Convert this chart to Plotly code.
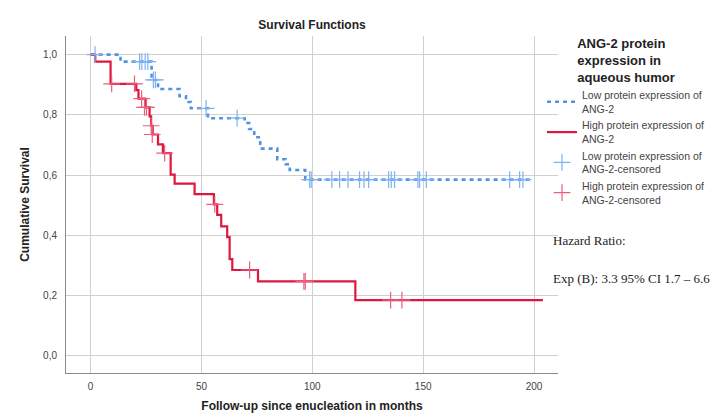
import plotly.graph_objects as go

# Kaplan-Meier step data (months, cumulative survival)
low_times = [0, 13.5, 27.5, 30.4, 40.1, 43.0, 45.2, 52.9, 69.5, 71.5, 73.8, 76.5, 84.2, 88.0, 89.8, 96.8, 198.0]
low_surv = [1.0, 0.977, 0.916, 0.886, 0.862, 0.843, 0.822, 0.789, 0.773, 0.753, 0.726, 0.688, 0.653, 0.636, 0.617, 0.585, 0.585]

high_times = [0, 2.1, 9.0, 20.6, 21.6, 24.6, 26.6, 27.3, 28.0, 30.4, 32.6, 36.1, 37.9, 46.9, 55.6, 57.1,
              58.9, 61.6, 62.7, 63.9, 75.5, 119.4, 204.0]
high_surv = [1.0, 0.977, 0.903, 0.882, 0.854, 0.825, 0.795, 0.764, 0.735, 0.702, 0.673, 0.602, 0.572, 0.537,
             0.503, 0.468, 0.430, 0.394, 0.321, 0.285, 0.247, 0.185, 0.185]

low_cens_t = [2.0, 22.1, 23.1, 24.6, 25.8, 28.3, 29.2, 52.1, 66.1, 98.8, 99.5, 108.8, 112.3, 116.1, 121.3,
              123.3, 125.4, 134.4, 135.6, 137.1, 147.6, 148.4, 151.4, 189.0, 193.5, 195.0]
low_cens_s = [1.0, 0.977, 0.977, 0.977, 0.977, 0.916, 0.916, 0.822, 0.789] + [0.585] * 17

high_cens_t = [9.5, 19.8, 23.0, 24.3, 25.2, 27.3, 27.8, 33.4, 56.0, 71.7, 96.2, 96.8, 135.3, 140.4]
high_cens_s = [0.903, 0.903, 0.854, 0.825, 0.825, 0.764, 0.735, 0.673, 0.503, 0.285, 0.247, 0.247, 0.185, 0.185]

x_ticks = [0, 50, 100, 150, 200]
y_ticks = [0.0, 0.2, 0.4, 0.6, 0.8, 1.0]
y_tick_labels = ["0,0", "0,2", "0,4", "0,6", "0,8", "1,0"]

BLUE = "#4f93e6"
BLUE_C = "#7fb2f0"
RED = "#e0163f"
RED_C = "#ea5f7c"

fig = go.Figure()
fig.add_trace(go.Scatter(x=low_times, y=low_surv, mode="lines", line_shape="hv",
                         line=dict(color=BLUE, width=2.6, dash="4px,4px"),
                         name="Low protein expression of<br>ANG-2"))
fig.add_trace(go.Scatter(x=high_times, y=high_surv, mode="lines", line_shape="hv",
                         line=dict(color=RED, width=2.2),
                         name="High protein expression of<br>ANG-2"))
fig.add_trace(go.Scatter(x=low_cens_t, y=low_cens_s, mode="markers",
                         marker=dict(symbol="cross-thin-open", size=12, color=BLUE_C,
                                     line=dict(color=BLUE_C, width=1.2)),
                         name="Low protein expression of<br>ANG-2-censored"))
fig.add_trace(go.Scatter(x=high_cens_t, y=high_cens_s, mode="markers",
                         marker=dict(symbol="cross-thin-open", size=12, color=RED_C,
                                     line=dict(color=RED_C, width=1.2)),
                         name="High protein expression of<br>ANG-2-censored"))

axis_font = dict(family="Liberation Sans, Arial, sans-serif", size=10, color="#444")
fig.update_layout(
    width=720, height=414,
    margin=dict(l=58, r=170, t=28, b=43),
    paper_bgcolor="white", plot_bgcolor="white",
    font=dict(family="Liberation Sans, Arial, sans-serif", color="#222"),
    title=dict(text="<b>Survival Functions</b>", x=304 / 720, xanchor="center",
               y=1 - 17 / 414, yanchor="middle", font=dict(size=12, color="#222")),
    xaxis=dict(range=[-11.1, 210.8], tickvals=x_ticks, ticktext=[str(v) for v in x_ticks],
               showgrid=True, gridcolor="#d0d0d0", gridwidth=1, zeroline=False,
               showline=True, linecolor="#8a8a8a", linewidth=1, ticks="", tickfont=axis_font,
               ticklabelstandoff=4,
               title=dict(text="<b>Follow-up since enucleation in months</b>", font=dict(size=12, color="#222"),
                          standoff=10)),
    yaxis=dict(range=[-0.057, 1.062], tickvals=y_ticks, ticktext=y_tick_labels,
               showgrid=True, gridcolor="#d0d0d0", gridwidth=1, zeroline=False,
               showline=True, linecolor="#8a8a8a", linewidth=1, ticks="", tickfont=axis_font,
               ticklabelstandoff=6,
               title=dict(text="<b>Cumulative Survival</b>", font=dict(size=12, color="#222"), standoff=10)),
    legend=dict(x=1.0 - 16 / 492, xanchor="left", y=1.015, yanchor="top", bgcolor="rgba(0,0,0,0)",
                font=dict(size=10.5, color="#444"), itemwidth=30, tracegroupgap=0,
                title=dict(text="<b>ANG-2 protein<br>expression in<br>aqueous humor</b>", side="top center",
                           font=dict(size=13, color="#222"))),
    showlegend=True,
)

fig.add_annotation(xref="paper", yref="paper", x=1.0, y=(371 - 236) / 343, xanchor="left", yanchor="middle",
                   xshift=-7, text="Hazard Ratio:", showarrow=False,
                   font=dict(family="Liberation Serif, serif", size=13, color="#222"))
fig.add_annotation(xref="paper", yref="paper", x=1.0, y=(371 - 275) / 343, xanchor="left", yanchor="middle",
                   xshift=-7, text="Exp (B): 3.3 95% CI 1.7 – 6.6", showarrow=False,
                   font=dict(family="Liberation Serif, serif", size=13, color="#222"))

fig.write_html("out.html")
